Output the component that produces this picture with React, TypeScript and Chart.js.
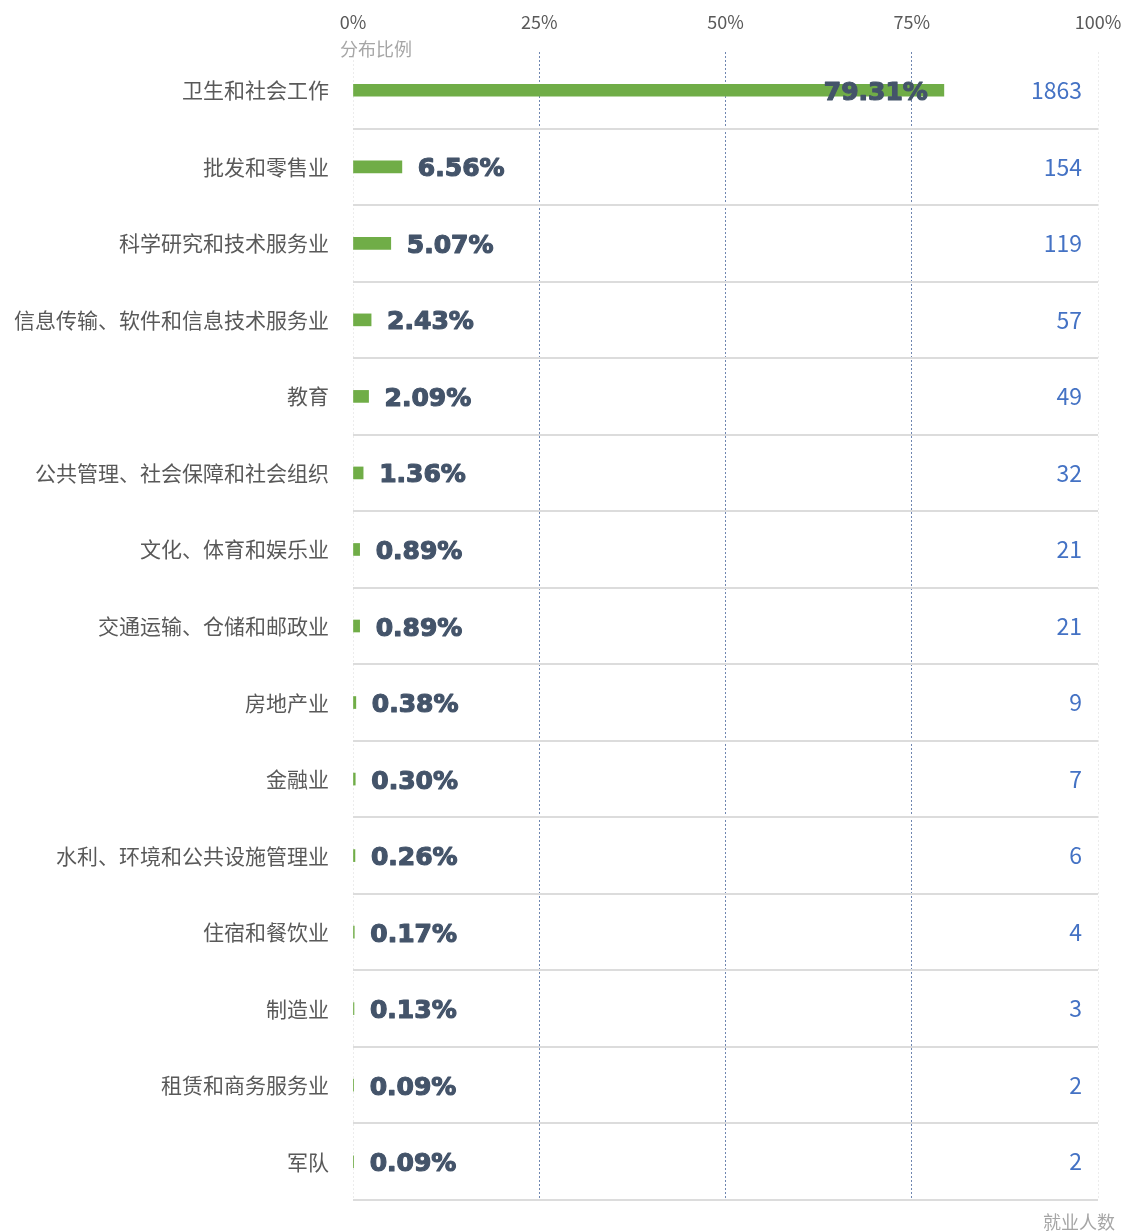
import React, { useEffect, useRef } from 'react';
import { Chart, registerables } from 'chart.js';

Chart.register(...registerables);

const categories = [
  '卫生和社会工作',
  '批发和零售业',
  '科学研究和技术服务业',
  '信息传输、软件和信息技术服务业',
  '教育',
  '公共管理、社会保障和社会组织',
  '文化、体育和娱乐业',
  '交通运输、仓储和邮政业',
  '房地产业',
  '金融业',
  '水利、环境和公共设施管理业',
  '住宿和餐饮业',
  '制造业',
  '租赁和商务服务业',
  '军队',
];
const shares = [79.31, 6.56, 5.07, 2.43, 2.09, 1.36, 0.89, 0.89, 0.38, 0.3, 0.26, 0.17, 0.13, 0.09, 0.09];
const counts = [1863, 154, 119, 57, 49, 32, 21, 21, 9, 7, 6, 4, 3, 2, 2];
const xTickValues = [0, 25, 50, 75, 100];
const xTitle = '分布比例';
const countTitle = '就业人数';

const CJK = '"Noto Sans CJK SC", "Noto Sans", sans-serif';
const BOLD = '"DejaVu Sans", Verdana, sans-serif';

const overlayPlugin = {
  id: 'overlay',
  afterDatasetsDraw(chart: any) {
    const ctx = chart.ctx;
    const area = chart.chartArea;
    const meta = chart.getDatasetMeta(0);
    ctx.save();
    meta.data.forEach((bar: any, i: number) => {
      const { x, y } = bar.getProps(['x', 'y'], true);
      const v = shares[i];
      const txt = v.toFixed(2) + '%';
      ctx.font = `bold 25px ${BOLD}`;
      ctx.fillStyle = '#44546A';
      ctx.strokeStyle = '#44546A';
      ctx.lineWidth = 1.2;
      ctx.lineJoin = 'round';
      ctx.textBaseline = 'middle';
      const tx = v > 50 ? x - 16 : x + 16;
      ctx.textAlign = v > 50 ? 'right' : 'left';
      ctx.fillText(txt, tx, y + 3);
      ctx.strokeText(txt, tx, y + 3);
      ctx.font = `23px ${CJK}`;
      ctx.fillStyle = '#4472C4';
      ctx.textAlign = 'right';
      ctx.fillText(String(counts[i]), area.right - 16, y);
    });
    ctx.font = `18px ${CJK}`;
    ctx.fillStyle = '#A6A6A6';
    ctx.textAlign = 'left';
    ctx.textBaseline = 'middle';
    ctx.fillText(xTitle, area.left - 13, 49);
    ctx.textAlign = 'right';
    ctx.fillText(countTitle, 1115, 1222);
    ctx.restore();
  },
};

export default function App() {
  const ref = useRef<HTMLCanvasElement | null>(null);
  useEffect(() => {
    if (!ref.current) return;
    const chart = new Chart(ref.current, {
      type: 'bar',
      data: {
        labels: categories,
        datasets: [
          {
            data: shares,
            backgroundColor: '#70AD47',
            borderWidth: 0,
            barThickness: 12,
          },
        ],
      },
      options: {
        indexAxis: 'y',
        responsive: false,
        animation: false,
        layout: { padding: { left: 0, right: 28, top: 0, bottom: 32 } },
        plugins: { legend: { display: false }, tooltip: { enabled: false } },
        scales: {
          x: {
            position: 'top',
            min: 0,
            max: 100,
            afterBuildTicks: (scale: any) => {
              scale.ticks = xTickValues.map((v) => ({ value: v }));
            },
            afterFit: (scale: any) => {
              scale.height = 52;
              scale.paddingLeft = 0;
              scale.paddingRight = 0;
            },
            ticks: {
              callback: (v: any) => v + '%',
              color: '#595959',
              font: { family: CJK, size: 18 },
              padding: 19,
              maxRotation: 0,
            },
            grid: {
              drawTicks: false,
              lineWidth: 1,
              color: (c: any) => {
                const v = c.tick ? c.tick.value : -1;
                return v === 0 || v === 100 ? 'rgba(200,200,200,0.35)' : '#6F86B0';
              },
            },
            border: { display: false, dash: [2, 2] },
          },
          y: {
            afterFit: (scale: any) => {
              scale.width = 353;
              scale.paddingTop = 0;
              scale.paddingBottom = 0;
            },
            ticks: {
              color: '#595959',
              font: { family: CJK, size: 21 },
              padding: 24,
            },
            grid: {
              offset: true,
              drawTicks: false,
              lineWidth: 2,
              color: (c: any) => (c.index === 0 ? 'rgba(0,0,0,0)' : c.index >= categories.length ? '#F2F2F2' : '#DCDCDC'),
            },
            border: { display: false },
          },
        },
      },
      plugins: [overlayPlugin],
    });
    return () => chart.destroy();
  }, []);
  return (
    <div style={{ position: 'absolute', left: 0, top: 0, width: 1126, height: 1232, background: '#fff' }}>
      <canvas ref={ref} width={1126} height={1232} style={{ display: 'block' }} />
    </div>
  );
}
